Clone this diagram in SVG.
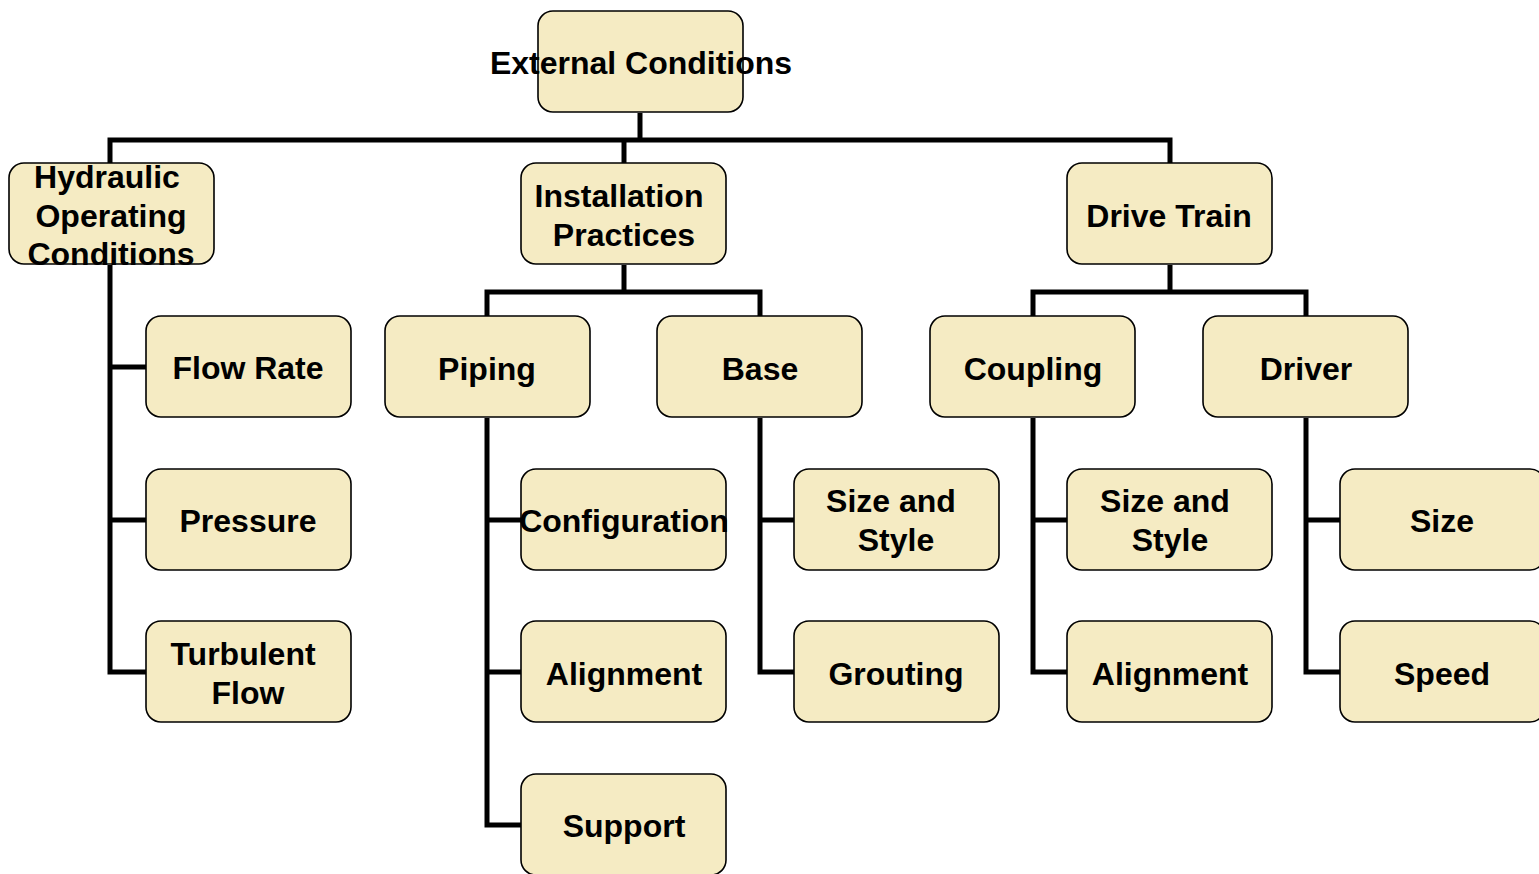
<svg xmlns="http://www.w3.org/2000/svg" width="1539" height="874" viewBox="0 0 1539 874">
<style>
.box{fill:#F5EBC3;stroke:#000;stroke-width:1.6}
.t{font-family:"Liberation Sans",Arial,sans-serif;font-weight:bold;font-size:32px;fill:#000;text-anchor:middle}
.c{fill:none;stroke:#000;stroke-width:5;stroke-linejoin:miter}
</style>
<rect width="1539" height="874" fill="#fff"/>
<g id="connectors">
<path class="c" d="M640,113 V140"/>
<path class="c" d="M110,163 V140 H1170 V163"/>
<path class="c" d="M624,140 V163"/>
<path class="c" d="M110,265 V672 H146 M110,367 H146 M110,520 H146"/>
<path class="c" d="M624,265 V292 M487,316 V292 H760 V316"/>
<path class="c" d="M487,418 V825 H521 M487,520 H521 M487,672 H521"/>
<path class="c" d="M760,418 V672 H794 M760,520 H794"/>
<path class="c" d="M1170,265 V292 M1033,316 V292 H1306 V316"/>
<path class="c" d="M1033,418 V672 H1067 M1033,520 H1067"/>
<path class="c" d="M1306,418 V672 H1340 M1306,520 H1340"/>
</g>
<g id="external"><rect class="box" x="538" y="11" width="205" height="101" rx="15"/><text class="t" x="641" y="74">External Conditions</text></g>
<g id="hydraulic"><rect class="box" x="9" y="163" width="205" height="101" rx="15"/><text class="t" x="107" y="188">Hydraulic</text><text class="t" x="111" y="227">Operating</text><text class="t" x="111" y="265">Conditions</text></g>
<g id="installation"><rect class="box" x="521" y="163" width="205" height="101" rx="15"/><text class="t" x="619" y="207">Installation</text><text class="t" x="624" y="246">Practices</text></g>
<g id="drivetrain"><rect class="box" x="1067" y="163" width="205" height="101" rx="15"/><text class="t" x="1169" y="227">Drive Train</text></g>
<g id="flowrate"><rect class="box" x="146" y="316" width="205" height="101" rx="15"/><text class="t" x="248" y="379">Flow Rate</text></g>
<g id="piping"><rect class="box" x="385" y="316" width="205" height="101" rx="15"/><text class="t" x="487" y="380">Piping</text></g>
<g id="base"><rect class="box" x="657" y="316" width="205" height="101" rx="15"/><text class="t" x="760" y="380">Base</text></g>
<g id="coupling"><rect class="box" x="930" y="316" width="205" height="101" rx="15"/><text class="t" x="1033" y="380">Coupling</text></g>
<g id="driver"><rect class="box" x="1203" y="316" width="205" height="101" rx="15"/><text class="t" x="1306" y="380">Driver</text></g>
<g id="pressure"><rect class="box" x="146" y="469" width="205" height="101" rx="15"/><text class="t" x="248" y="532">Pressure</text></g>
<g id="configuration"><rect class="box" x="521" y="469" width="205" height="101" rx="15"/><text class="t" x="624" y="532">Configuration</text></g>
<g id="basesize"><rect class="box" x="794" y="469" width="205" height="101" rx="15"/><text class="t" x="891" y="512">Size and</text><text class="t" x="896" y="551">Style</text></g>
<g id="couplingsize"><rect class="box" x="1067" y="469" width="205" height="101" rx="15"/><text class="t" x="1165" y="512">Size and</text><text class="t" x="1170" y="551">Style</text></g>
<g id="driversize"><rect class="box" x="1340" y="469" width="205" height="101" rx="15"/><text class="t" x="1442" y="532">Size</text></g>
<g id="turbulent"><rect class="box" x="146" y="621" width="205" height="101" rx="15"/><text class="t" x="243" y="665">Turbulent</text><text class="t" x="248" y="704">Flow</text></g>
<g id="pipingalign"><rect class="box" x="521" y="621" width="205" height="101" rx="15"/><text class="t" x="624" y="685">Alignment</text></g>
<g id="grouting"><rect class="box" x="794" y="621" width="205" height="101" rx="15"/><text class="t" x="896" y="685">Grouting</text></g>
<g id="couplingalign"><rect class="box" x="1067" y="621" width="205" height="101" rx="15"/><text class="t" x="1170" y="685">Alignment</text></g>
<g id="speed"><rect class="box" x="1340" y="621" width="205" height="101" rx="15"/><text class="t" x="1442" y="685">Speed</text></g>
<g id="support"><rect class="box" x="521" y="774" width="205" height="101" rx="15"/><text class="t" x="624" y="837">Support</text></g>
</svg>
